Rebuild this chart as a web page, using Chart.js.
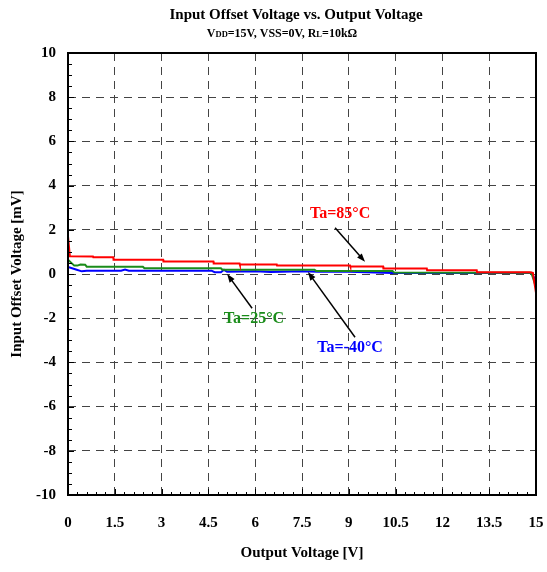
<!DOCTYPE html>
<html>
<head>
<meta charset="utf-8">
<script src="https://cdn.jsdelivr.net/npm/chart.js@4/dist/chart.umd.min.js"></script>
<style>
  body { margin: 0; background: #fff; }
</style>
</head>
<body>
<canvas id="myChart" width="547" height="572"></canvas>
<script>
'use strict';

const xTicks = [0, 1.5, 3, 4.5, 6, 7.5, 9, 10.5, 12, 13.5, 15];
const yTicks = [-10, -8, -6, -4, -2, 0, 2, 4, 6, 8, 10];

const redX = [0, 0.06, 0.8, 0.81, 1.45, 1.46, 3.05, 3.06, 4.66, 4.67, 5.5, 5.51, 6.69, 6.7, 9.04, 9.05, 10.1, 10.11, 11.5, 11.51, 13.1, 13.11, 14.8, 14.9, 15];
const redY = [1.7, 0.8, 0.79, 0.76, 0.76, 0.65, 0.65, 0.56, 0.56, 0.48, 0.48, 0.43, 0.43, 0.38, 0.38, 0.34, 0.34, 0.25, 0.25, 0.17, 0.17, 0.08, 0.08, 0.05, -0.85];

const greenX = [0, 0.2, 0.3, 0.4, 0.55, 0.6, 2.4, 2.45, 4.9, 4.95, 7.9, 7.95, 10.4, 10.45, 14.85, 15];
const greenY = [0.65, 0.38, 0.38, 0.43, 0.42, 0.33, 0.33, 0.26, 0.26, 0.19, 0.19, 0.14, 0.14, 0.07, 0.06, -0.6];

const blueX = [0, 0.28, 0.44, 0.6, 1.7, 1.83, 1.95, 4.6, 4.7, 4.9, 5.0, 5.1, 6.0, 6.5, 7.5, 8.0, 9.0, 10.4, 14.85, 15];
const blueY = [0.32, 0.19, 0.12, 0.15, 0.15, 0.2, 0.15, 0.15, 0.08, 0.08, 0.19, 0.1, 0.13, 0.09, 0.12, 0.1, 0.1, 0.05, 0.05, -0.3];

// labels + arrows, in data units
const notes = [
  { text: 'Ta=85°C', color: '#ff0000', at: [8.72, 2.73], from: [8.56, 2.09], to: [9.52, 0.55] },
  { text: 'Ta=25°C', color: '#1a8c1a', at: [5.96, -2.05], from: [5.90, -1.55], to: [5.10, 0.0] },
  { text: 'Ta=-40°C', color: '#0000ff', at: [9.04, -3.36], from: [9.2, -2.86], to: [7.69, 0.09] },
];

const pts = (xs, ys) => xs.map((x, i) => ({ x: x, y: ys[i] }));
const serif = '"Liberation Serif", "Times New Roman", serif';

const frame = {
  id: 'frame',
  beforeDraw(chart) {
    const ctx = chart.ctx;
    ctx.save();
    ctx.fillStyle = '#fff';
    ctx.fillRect(0, 0, chart.width, chart.height);
    ctx.restore();
  },
  afterDatasetsDraw(chart) {
    const ctx = chart.ctx;
    const a = chart.chartArea;
    const xs = chart.scales.x;
    const ys = chart.scales.y;
    ctx.save();

    // minor ticks
    ctx.strokeStyle = '#000';
    ctx.lineWidth = 1;
    ctx.beginPath();
    for (let i = 0; i <= 50; i++) {
      const px = Math.round(xs.getPixelForValue(i * 0.3)) + 0.5;
      const len = i % 5 === 0 ? 6 : 3;
      ctx.moveTo(px, a.bottom);
      ctx.lineTo(px, a.bottom - len);
    }
    for (let i = 0; i <= 40; i++) {
      const py = Math.round(ys.getPixelForValue(-10 + i * 0.5)) + 0.5;
      const len = i % 4 === 0 ? 6 : 4;
      ctx.moveTo(a.left, py);
      ctx.lineTo(a.left + len, py);
    }
    ctx.stroke();

    // border
    ctx.lineWidth = 2;
    ctx.strokeRect(a.left, a.top, a.right - a.left, a.bottom - a.top);

    // annotations
    notes.forEach(n => {
      const x0 = xs.getPixelForValue(n.from[0]), y0 = ys.getPixelForValue(n.from[1]);
      const x1 = xs.getPixelForValue(n.to[0]), y1 = ys.getPixelForValue(n.to[1]);
      const ang = Math.atan2(y1 - y0, x1 - x0);
      ctx.strokeStyle = '#000';
      ctx.fillStyle = '#000';
      ctx.lineWidth = 1.5;
      ctx.beginPath();
      ctx.moveTo(x0, y0);
      ctx.lineTo(x1 - 6 * Math.cos(ang), y1 - 6 * Math.sin(ang));
      ctx.stroke();
      ctx.beginPath();
      ctx.moveTo(x1, y1);
      ctx.lineTo(x1 - 9 * Math.cos(ang - 0.35), y1 - 9 * Math.sin(ang - 0.35));
      ctx.lineTo(x1 - 9 * Math.cos(ang + 0.35), y1 - 9 * Math.sin(ang + 0.35));
      ctx.closePath();
      ctx.fill();

      ctx.font = 'bold 16px ' + serif;
      ctx.fillStyle = n.color;
      ctx.textAlign = 'center';
      ctx.textBaseline = 'middle';
      ctx.fillText(n.text, xs.getPixelForValue(n.at[0]), ys.getPixelForValue(n.at[1]));
    });

    // titles
    ctx.fillStyle = '#000';
    ctx.textAlign = 'center';
    ctx.textBaseline = 'middle';
    ctx.font = 'bold 15px ' + serif;
    ctx.fillText('Input Offset Voltage vs. Output Voltage', 296, 15);

    const parts = [['V', 12], ['DD', 8.5], ['=15V, VSS=0V, R', 12], ['L', 8.5], ['=10kΩ', 12]];
    let w = 0;
    parts.forEach(p => { ctx.font = 'bold ' + p[1] + 'px ' + serif; w += ctx.measureText(p[0]).width; });
    let cx = 282 - w / 2;
    ctx.textAlign = 'left';
    ctx.textBaseline = 'alphabetic';
    parts.forEach(p => {
      ctx.font = 'bold ' + p[1] + 'px ' + serif;
      ctx.fillText(p[0], cx, 37);
      cx += ctx.measureText(p[0]).width;
    });
    ctx.restore();
  }
};

const config = {
  type: 'line',
  data: {
    datasets: [
      { label: 'Ta=85°C', data: pts(redX, redY), borderColor: '#ff0000', borderWidth: 2 },
      { label: 'Ta=25°C', data: pts(greenX, greenY), borderColor: '#1a8c1a', borderWidth: 2 },
      { label: 'Ta=-40°C', data: pts(blueX, blueY), borderColor: '#0000ff', borderWidth: 2 },
    ],
  },
  options: {
    responsive: false,
    animation: false,
    devicePixelRatio: 1,
    layout: { padding: { top: 53, left: 0, right: 11, bottom: 0 } },
    elements: { point: { radius: 0 }, line: { tension: 0 } },
    plugins: { legend: { display: false }, tooltip: { enabled: false } },
    scales: {
      x: {
        type: 'linear',
        min: 0,
        max: 15,
        afterBuildTicks: s => { s.ticks = xTicks.map(v => ({ value: v })); },
        afterFit: s => { s.height = 77; s.paddingLeft = 0; s.paddingRight = 0; },
        ticks: { color: '#000', font: { family: serif, size: 15, weight: 'bold' }, padding: 19, maxRotation: 0 },
        grid: { color: '#444', lineWidth: 1, drawTicks: false },
        border: { display: false, dash: [8, 6] },
        title: { display: true, text: 'Output Voltage [V]', color: '#000', font: { family: serif, size: 15, weight: 'bold' }, padding: { top: 0, bottom: 10 } },
      },
      y: {
        min: -10,
        max: 10,
        afterBuildTicks: s => { s.ticks = yTicks.map(v => ({ value: v })); },
        afterFit: s => { s.width = 68; s.paddingTop = 0; s.paddingBottom = 0; },
        ticks: { color: '#000', font: { family: serif, size: 15, weight: 'bold' }, padding: 12 },
        grid: { color: '#444', lineWidth: 1, drawTicks: false },
        border: { display: false, dash: [8, 6] },
        title: { display: true, text: 'Input Offset Voltage [mV]', color: '#000', font: { family: serif, size: 15, weight: 'bold' }, padding: { top: 8, bottom: 0 } },
      },
    },
  },
  plugins: [frame],
};

const myChart = new Chart(document.getElementById('myChart'), config);
</script>
</body>
</html>
